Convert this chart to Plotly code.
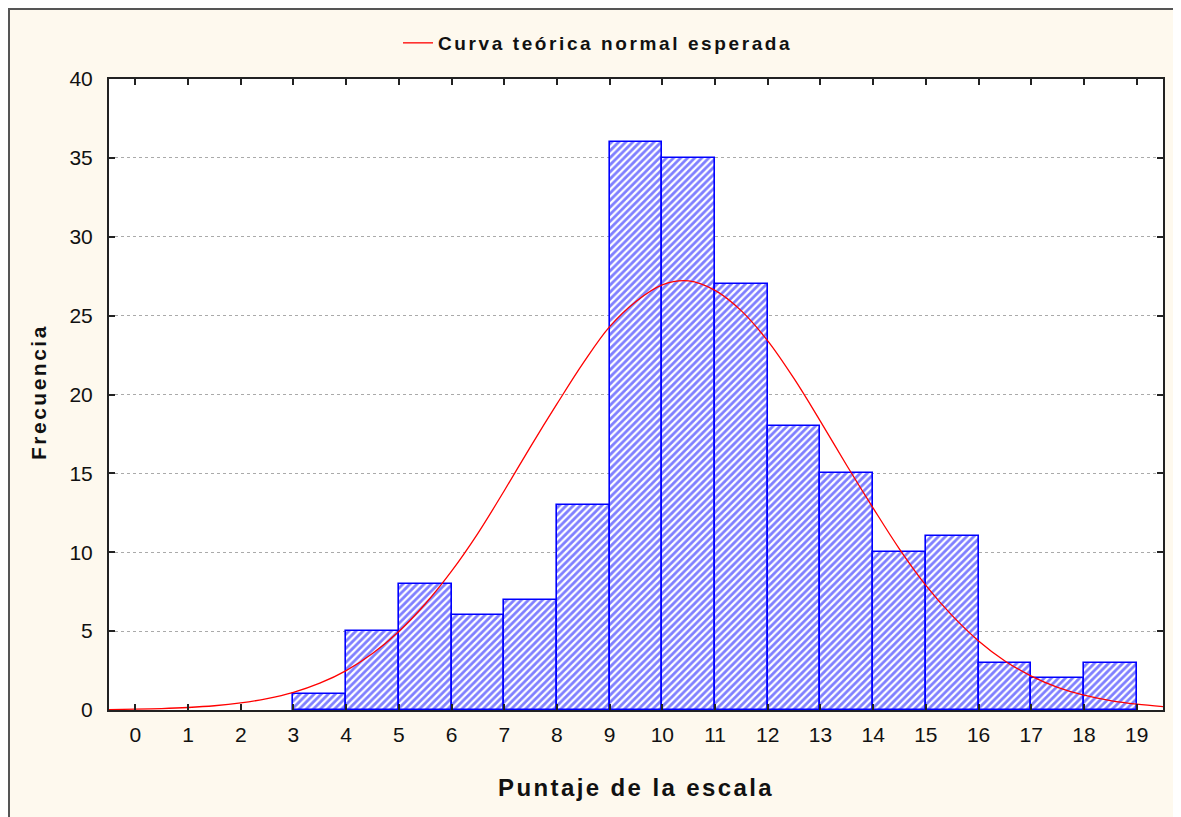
import plotly.graph_objects as go

# Histogram bins (lower edges, width 1) and frequencies
bin_lower = [3, 4, 5, 6, 7, 8, 9, 10, 11, 12, 13, 14, 15, 16, 17, 18]
frequencies = [1, 5, 8, 6, 7, 13, 36, 35, 27, 18, 15, 10, 11, 3, 2, 3]

# Expected normal curve
curve_x = [-0.5, 0, 0.5, 1, 1.5, 2, 2.5, 3, 3.5, 4, 4.5, 5, 5.5, 6, 6.5, 7, 7.5, 8, 8.5, 9, 9.5,
           10, 10.5, 11, 11.5, 12, 12.5, 13, 13.5, 14, 14.5, 15, 15.5, 16, 16.5, 17, 17.5, 18,
           18.5, 19, 19.5]
curve_y = [0.03, 0.05, 0.09, 0.16, 0.27, 0.45, 0.72, 1.12, 1.70, 2.50, 3.58, 4.98, 6.72, 8.8,
           11.2, 13.9, 16.7, 19.4, 22.0, 24.3, 25.9, 26.95, 27.2, 26.6, 25.3, 23.4, 21.0, 18.3,
           15.5, 12.8, 10.2, 7.9, 5.98, 4.38, 3.11, 2.15, 1.44, 0.94, 0.60, 0.37, 0.22]

x_ticks = list(range(0, 20))
y_ticks = list(range(0, 45, 5))

legend_name = "Curva teórica normal esperada"
x_title = "Puntaje de la escala"
y_title = "Frecuencia"

FONT = "Liberation Sans, Arial, sans-serif"
CREAM = "#FEF9EE"

bin_centers = [b + 0.5 for b in bin_lower]

fig = go.Figure()
fig.add_trace(go.Bar(
    x=bin_centers, y=frequencies, width=1,
    marker=dict(color="white",
                line=dict(color="#0000FF", width=1.6),
                pattern=dict(shape="/", fgcolor="#0000FF", bgcolor="white",
                             size=5, solidity=0.55)),
    showlegend=False, hoverinfo="x+y",
))
fig.add_trace(go.Scatter(
    x=curve_x, y=curve_y, mode="lines",
    name=f'<span style="letter-spacing:2.6px">{legend_name}</span>',
    line=dict(color="#FF0000", width=1.3, shape="spline"),
))

# The page body has an 8px margin; figure pixel = page pixel - 8
OFF = 8
W, H = 1181 - OFF, 817 - OFF
L, T = 109 - OFF, 79 - OFF
Rp, Bp = 1163 - OFF, 710 - OFF
R, B = W - Rp, H - Bp
pw, ph = Rp - L, Bp - T

def px_x(p):
    return (p - OFF - L) / pw

def px_y(p):
    return 1 - (p - OFF - T) / ph

fig.update_layout(
    width=W, height=H,
    margin=dict(l=L, r=R, t=T, b=B, pad=0),
    paper_bgcolor=CREAM, plot_bgcolor="white",
    font=dict(family=FONT, color="#111111", size=21),
    bargap=0,
    showlegend=True,
    legend=dict(orientation="h", x=px_x(598), xanchor="center", y=px_y(43), yanchor="middle",
                bgcolor="rgba(0,0,0,0)",
                font=dict(family=FONT, size=19, color="#111111", weight="bold")),
    xaxis=dict(range=[-0.5, 19.5], tickmode="array", tickvals=x_ticks,
               ticktext=[str(v) for v in x_ticks],
               ticks="inside", ticklen=6, tickwidth=1.5, tickcolor="#222",
               showline=True, linecolor="#222", linewidth=2, mirror="ticks",
               showgrid=False, zeroline=False,
               tickfont=dict(size=21, color="#111"), ticklabelstandoff=5),
    yaxis=dict(range=[0, 40], tickmode="array", tickvals=y_ticks,
               ticktext=[str(v) for v in y_ticks],
               ticks="inside", ticklen=6, tickwidth=1.5, tickcolor="#222",
               showline=True, linecolor="#222", linewidth=2, mirror="ticks",
               showgrid=True, gridcolor="#AAAAAA", gridwidth=1, griddash="dot",
               zeroline=False,
               tickfont=dict(size=21, color="#111"), ticklabelstandoff=10),
    shapes=[
        dict(type="rect", xref="paper", yref="paper", x0=px_x(9), x1=1.2, y0=-0.3,
             y1=px_y(9), line=dict(color="#555555", width=2), layer="above"),
    ],
    annotations=[
        dict(xref="paper", yref="paper", x=0.5, y=px_y(787), xanchor="center", yanchor="middle",
             showarrow=False,
             text=f'<b><span style="letter-spacing:2.4px">{x_title}</span></b>',
             font=dict(size=24, color="#111")),
        dict(xref="paper", yref="paper", x=px_x(38), y=px_y(392), xanchor="center",
             yanchor="middle", textangle=-90, showarrow=False,
             text=f'<b><span style="letter-spacing:2.5px">{y_title}</span></b>',
             font=dict(size=21, color="#111")),
    ],
)

fig.write_html("out.html")
